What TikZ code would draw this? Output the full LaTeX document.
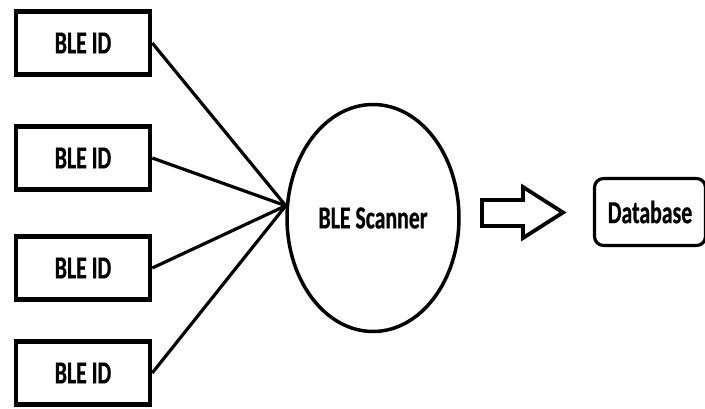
\documentclass[tikz,border=0pt]{standalone}
\usepackage{fontspec}
\newfontfamily\blefont{Carlito}[FakeStretch=0.68,FakeBold=0.6]
\usepackage{tikz}
\usetikzlibrary{positioning,calc,shapes.geometric}

\begin{document}
\begin{tikzpicture}[x=1pt,y=1pt,
    idbox/.style={draw, line width=4.5pt, minimum width=134pt, minimum height=63pt},
    link/.style={line width=3.2pt},
    every node/.style={font=\blefont\bfseries\fontsize{32}{34}\selectfont}]
  \useasboundingbox (0,0) rectangle (705,408);

  % tags
  \node[idbox] (id1) at (83,365) {BLE ID};
  \node[idbox] (id2) at (83,250) {BLE ID};
  \node[idbox] (id3) at (83,140) {BLE ID};
  \node[idbox] (id4) at (83,35) {BLE ID};

  % reader
  \node[draw, ellipse, line width=3.5pt, minimum width=172pt, minimum height=227pt, inner sep=0pt]
    (scanner) at (373,190) {BLE Scanner};
  \coordinate (hub) at (scanner.172);
  \foreach \i in {1,...,4}
    \draw[link] (id\i.east) -- (hub);

  % store
  \node[draw, rounded corners=9pt, line width=3.2pt, minimum width=111pt, minimum height=67pt]
    (db) at (650,196) {Database};

  % block arrow
  \draw[line width=3.8pt, line join=miter]
    (482,208) -- (523,208) -- (523,221) -- (563,195.5) -- (523,170)
    -- (523,182) -- (482,182) -- cycle;
\end{tikzpicture}
\end{document}
